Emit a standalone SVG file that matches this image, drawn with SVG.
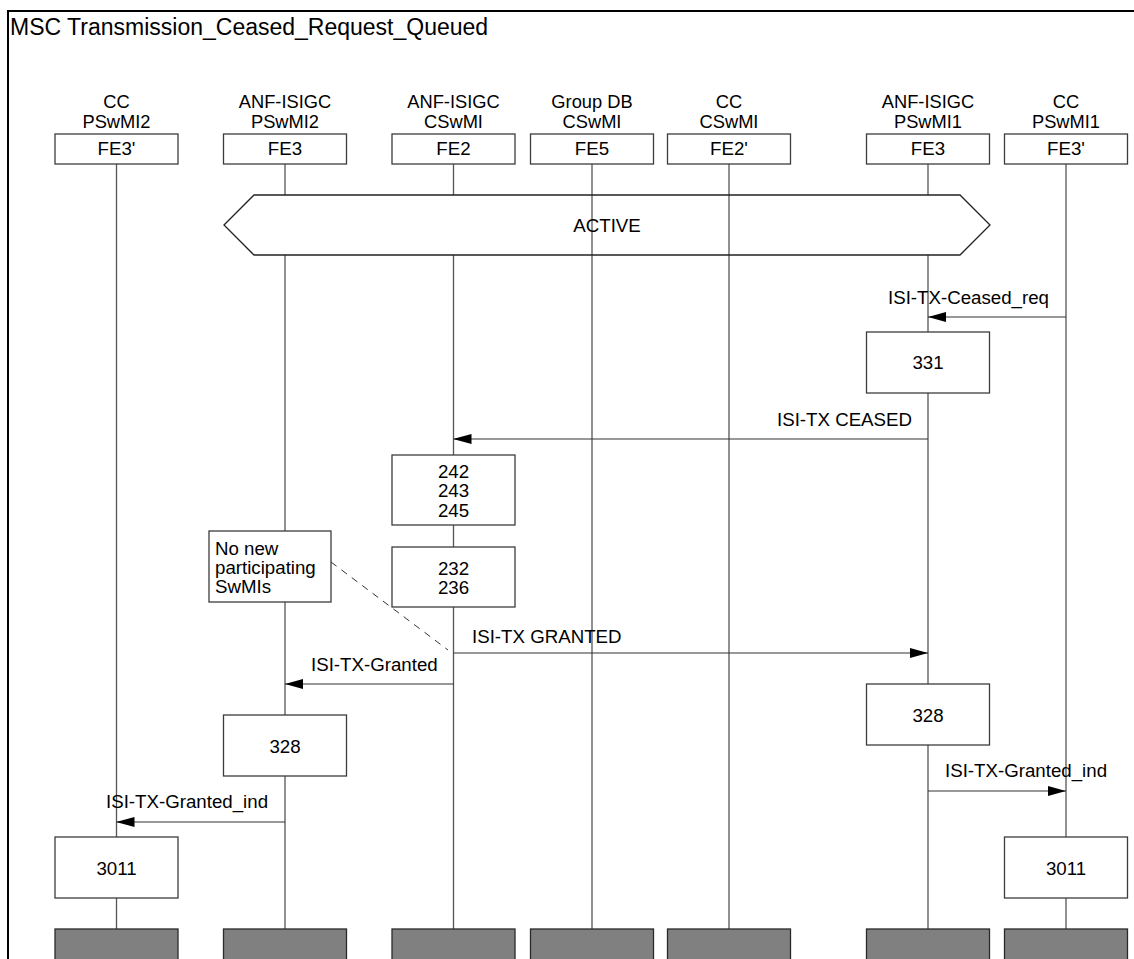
<svg xmlns="http://www.w3.org/2000/svg" width="1134" height="959" viewBox="0 0 1134 959">
<style>
text{font-family:"Liberation Sans",Arial,sans-serif;font-size:18.7px;fill:#000}
.title{font-size:23px}
.c{text-anchor:middle}
.e{text-anchor:end}
.h{font-size:18.3px}
.box{fill:#fff;stroke:#3c3c3c;stroke-width:1.3}
.end{fill:#808080;stroke:#2a2a2a;stroke-width:1.3}
.life{stroke:#555;stroke-width:1.3;fill:none}
.msg{stroke:#333;stroke-width:1.2;fill:none;marker-end:url(#ah)}
.hex{fill:none;stroke:#222;stroke-width:1.3}
</style>
<defs>
<marker id="ah" viewBox="0 0 18 10" refX="18" refY="5" markerWidth="18" markerHeight="10" markerUnits="userSpaceOnUse" orient="auto">
<path d="M0,0 L18,5 L0,10 Z" fill="#000"/>
</marker>
</defs>
<rect width="1134" height="959" fill="#fff"/>
<g id="frame">
<path d="M8,970 L8,11 L1140,11" fill="none" stroke="#000" stroke-width="2"/>
<text class="title" x="10" y="35">MSC Transmission_Ceased_Request_Queued</text>
</g>
<g id="lifelines">
<line class="life" x1="116.5" y1="164" x2="116.5" y2="929"/>
<line class="life" x1="285" y1="164" x2="285" y2="195"/>
<line class="life" x1="285" y1="255" x2="285" y2="929"/>
<line class="life" x1="453.5" y1="164" x2="453.5" y2="195"/>
<line class="life" x1="453.5" y1="255" x2="453.5" y2="929"/>
<line class="life" x1="592" y1="164" x2="592" y2="929"/>
<line class="life" x1="729" y1="164" x2="729" y2="929"/>
<line class="life" x1="928" y1="164" x2="928" y2="195"/>
<line class="life" x1="928" y1="255" x2="928" y2="929"/>
<line class="life" x1="1066" y1="164" x2="1066" y2="929"/>
</g>
<g id="inst-cc-pswmi2">
<text class="c h" x="116.5" y="108">CC</text>
<text class="c h" x="116.5" y="128">PSwMI2</text>
<rect class="box" x="55" y="134" width="123" height="30"/>
<text class="c" x="116.5" y="155">FE3'</text>
<rect class="end" x="55" y="929" width="123" height="40"/>
</g>
<g id="inst-anf-pswmi2">
<text class="c h" x="285" y="108">ANF-ISIGC</text>
<text class="c h" x="285" y="128">PSwMI2</text>
<rect class="box" x="223.5" y="134" width="123" height="30"/>
<text class="c" x="285" y="155">FE3</text>
<rect class="end" x="223.5" y="929" width="123" height="40"/>
</g>
<g id="inst-anf-cswmi">
<text class="c h" x="453.5" y="108">ANF-ISIGC</text>
<text class="c h" x="453.5" y="128">CSwMI</text>
<rect class="box" x="392" y="134" width="123" height="30"/>
<text class="c" x="453.5" y="155">FE2</text>
<rect class="end" x="392" y="929" width="123" height="40"/>
</g>
<g id="inst-groupdb">
<text class="c h" x="592" y="108">Group DB</text>
<text class="c h" x="592" y="128">CSwMI</text>
<rect class="box" x="530.5" y="134" width="123" height="30"/>
<text class="c" x="592" y="155">FE5</text>
<rect class="end" x="530.5" y="929" width="123" height="40"/>
</g>
<g id="inst-cc-cswmi">
<text class="c h" x="729" y="108">CC</text>
<text class="c h" x="729" y="128">CSwMI</text>
<rect class="box" x="667.5" y="134" width="123" height="30"/>
<text class="c" x="729" y="155">FE2'</text>
<rect class="end" x="667.5" y="929" width="123" height="40"/>
</g>
<g id="inst-anf-pswmi1">
<text class="c h" x="928" y="108">ANF-ISIGC</text>
<text class="c h" x="928" y="128">PSwMI1</text>
<rect class="box" x="866.5" y="134" width="123" height="30"/>
<text class="c" x="928" y="155">FE3</text>
<rect class="end" x="866.5" y="929" width="123" height="40"/>
</g>
<g id="inst-cc-pswmi1">
<text class="c h" x="1066" y="108">CC</text>
<text class="c h" x="1066" y="128">PSwMI1</text>
<rect class="box" x="1004.5" y="134" width="123" height="30"/>
<text class="c" x="1066" y="155">FE3'</text>
<rect class="end" x="1004.5" y="929" width="123" height="40"/>
</g>
<g id="state-active">
<polygon class="hex" points="224,225 254,195 960,195 990,225 960,255 254,255"/>
<text class="c" x="607" y="232">ACTIVE</text>
</g>
<g id="connectors">
<line class="msg" x1="1066" y1="317" x2="928" y2="317"/>
<text x="888" y="304">ISI-TX-Ceased_req</text>
<line class="msg" x1="928" y1="439" x2="453.5" y2="439"/>
<text class="e" x="912" y="426">ISI-TX CEASED</text>
<line x1="331" y1="562" x2="448" y2="650" stroke="#333" stroke-width="1" stroke-dasharray="7,6"/>
<line class="msg" x1="453.5" y1="653" x2="928" y2="653"/>
<text x="472" y="643">ISI-TX GRANTED</text>
<line class="msg" x1="453.5" y1="684" x2="285" y2="684"/>
<text x="311" y="671">ISI-TX-Granted</text>
<line class="msg" x1="928" y1="791" x2="1066" y2="791"/>
<text x="945" y="777">ISI-TX-Granted_ind</text>
<line class="msg" x1="285" y1="822" x2="116.5" y2="822"/>
<text x="106" y="808">ISI-TX-Granted_ind</text>
</g>
<g id="action-331">
<rect class="box" x="866.5" y="332" width="123" height="61"/>
<text class="c" x="928" y="369">331</text>
</g>
<g id="action-242">
<rect class="box" x="392" y="455" width="123" height="70"/>
<text class="c" x="453.5" y="478">242</text>
<text class="c" x="453.5" y="497">243</text>
<text class="c" x="453.5" y="517">245</text>
</g>
<g id="note-no-new">
<rect class="box" x="209" y="531" width="122" height="71"/>
<text x="215" y="555">No new</text>
<text x="215" y="574">participating</text>
<text x="215" y="593">SwMIs</text>
</g>
<g id="action-232">
<rect class="box" x="392" y="547" width="123" height="60"/>
<text class="c" x="453.5" y="575">232</text>
<text class="c" x="453.5" y="594">236</text>
</g>
<g id="action-328-right">
<rect class="box" x="866.5" y="684" width="123" height="61"/>
<text class="c" x="928" y="722">328</text>
</g>
<g id="action-328-left">
<rect class="box" x="223.5" y="715" width="123" height="61"/>
<text class="c" x="285" y="753">328</text>
</g>
<g id="action-3011-left">
<rect class="box" x="55" y="837" width="123" height="61"/>
<text class="c" x="116.5" y="875">3011</text>
</g>
<g id="action-3011-right">
<rect class="box" x="1004.5" y="837" width="123" height="61"/>
<text class="c" x="1066" y="875">3011</text>
</g>
</svg>
